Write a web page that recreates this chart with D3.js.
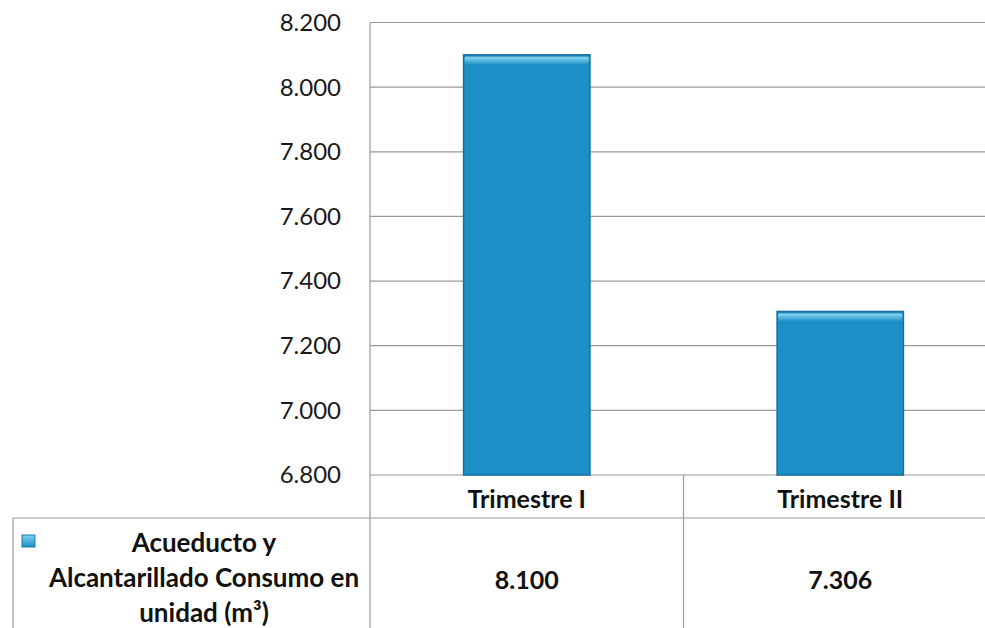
<!DOCTYPE html>
<html><head><meta charset="utf-8">
<script src="https://cdn.jsdelivr.net/npm/d3@7"></script>
<style>html,body{margin:0;padding:0;background:#fff;}svg{display:block;}</style>
</head><body>
<svg id="c" width="985" height="628"></svg>
<script>
const categories = ["Trimestre I", "Trimestre II"];
const values = [8100, 7306];
const tickValues = [6800, 7000, 7200, 7400, 7600, 7800, 8000, 8200];
const seriesName = ["Acueducto y", "Alcantarillado Consumo en", "unidad (m³)"];

(function () {
const loc = d3.formatLocale({decimal: ",", thousands: ".", grouping: [3], currency: ["", ""]});
const fmt = loc.format(",d");

const svg = d3.select("#c");
const font = "Lato, 'Open Sans', sans-serif";
const pLeft = 370, pRight = 997, pTop = 22.5, pBottom = 475;
const y = d3.scaleLinear().domain([6800, 8200]).range([pBottom, pTop]);
const x = d3.scaleBand().domain(categories).range([pLeft, pRight]).padding(0);
const gridColor = "#9a9a9a";

const defs = svg.append("defs");
const g1 = defs.append("linearGradient").attr("id", "hl").attr("x1", 0).attr("y1", 0).attr("x2", 0).attr("y2", 1);
g1.append("stop").attr("offset", "0%").attr("stop-color", "#2a7fae");
g1.append("stop").attr("offset", "20%").attr("stop-color", "#7fd3f0");
g1.append("stop").attr("offset", "100%").attr("stop-color", "#1e90c8");
const g2 = defs.append("linearGradient").attr("id", "lg").attr("x1", 0).attr("y1", 0).attr("x2", 0).attr("y2", 1);
g2.append("stop").attr("offset", "0%").attr("stop-color", "#7fd3f0");
g2.append("stop").attr("offset", "100%").attr("stop-color", "#1e8fc6");

// gridlines
svg.append("g").selectAll("line").data(tickValues).join("line")
  .attr("x1", pLeft).attr("x2", 985)
  .attr("y1", d => y(d)).attr("y2", d => y(d))
  .attr("stroke", gridColor).attr("stroke-width", 1.2);

// y tick labels
svg.append("g").selectAll("text").data(tickValues).join("text")
  .attr("x", 341).attr("y", d => y(d)).attr("dy", "0.35em")
  .attr("text-anchor", "end").attr("font-family", font).attr("font-size", 24)
  .attr("fill", "#1a1a1a").text(d => fmt(d));

// bars
const bw = x.bandwidth() * 0.403;
const bars = svg.append("g").selectAll("g").data(categories).join("g");
bars.append("rect")
  .attr("x", d => x(d) + (x.bandwidth() - bw) / 2)
  .attr("y", (d, i) => y(values[i]))
  .attr("width", bw)
  .attr("height", (d, i) => pBottom - y(values[i]))
  .attr("fill", "#1c8fc7").attr("stroke", "#14709e").attr("stroke-width", 1.5);
bars.append("rect")
  .attr("x", d => x(d) + (x.bandwidth() - bw) / 2 + 1)
  .attr("y", (d, i) => y(values[i]) + 1)
  .attr("width", bw - 2)
  .attr("height", 9)
  .attr("rx", 3)
  .attr("fill", "url(#hl)");

// plot/table borders
const L = (x1, y1, x2, y2) => svg.append("line").attr("x1", x1).attr("y1", y1).attr("x2", x2).attr("y2", y2)
  .attr("stroke", gridColor).attr("stroke-width", 1.2);
L(pLeft, pTop, pLeft, 628);
L(x(categories[1]), pBottom, x(categories[1]), 628);
L(13, 518, 985, 518);
L(13, 518, 13, 628);

// category labels
svg.append("g").selectAll("text").data(categories).join("text")
  .attr("x", d => x(d) + x.bandwidth() / 2).attr("y", 499).attr("dy", "0.35em")
  .attr("text-anchor", "middle").attr("font-family", font).attr("font-weight", "bold")
  .attr("font-size", 25).attr("fill", "#111").text(d => d);

// values row
svg.append("g").selectAll("text").data(categories).join("text")
  .attr("x", d => x(d) + x.bandwidth() / 2).attr("y", 580).attr("dy", "0.35em")
  .attr("text-anchor", "middle").attr("font-family", font).attr("font-weight", "bold")
  .attr("font-size", 25).attr("fill", "#111").text((d, i) => fmt(values[i]));

// legend key
svg.append("rect").attr("x", 22).attr("y", 535).attr("width", 13).attr("height", 12)
  .attr("fill", "url(#lg)").attr("stroke", "#1a7fb0").attr("stroke-width", 1);

// legend text
svg.append("g").selectAll("text").data(seriesName).join("text")
  .attr("x", 204).attr("y", (d, i) => 543 + i * 35).attr("dy", "0.35em")
  .attr("text-anchor", "middle").attr("font-family", font).attr("font-weight", "bold")
  .attr("font-size", 26).attr("fill", "#111").text(d => d);
})();
</script>
</body></html>
